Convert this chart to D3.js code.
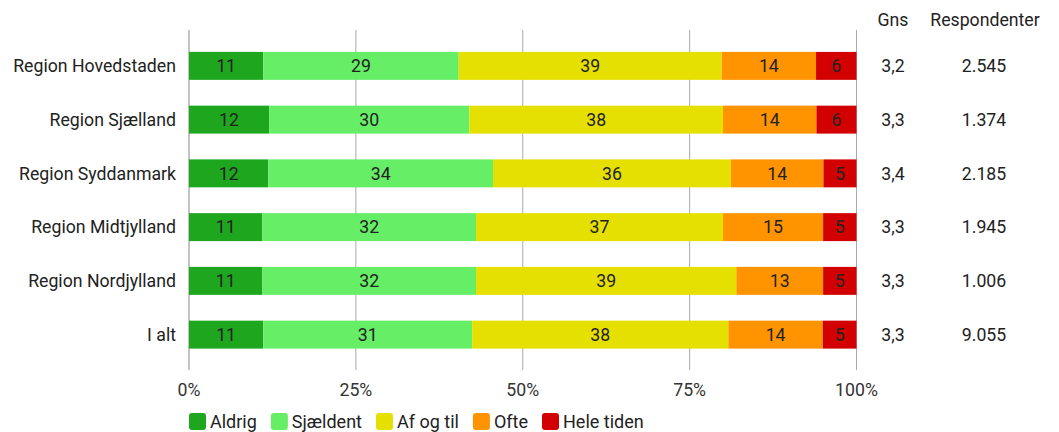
<!DOCTYPE html>
<html><head><meta charset="utf-8">
<script src="https://cdn.jsdelivr.net/npm/d3@7"></script>
<style>body{margin:0;background:#fff;font-family:Roboto,"Noto Sans",sans-serif;}</style>
</head><body><svg id="c" width="1059" height="432"></svg>
<script>
const regions = ["Region Hovedstaden","Region Sjælland","Region Syddanmark","Region Midtjylland","Region Nordjylland","I alt"];
const seriesNames = ["Aldrig","Sjældent","Af og til","Ofte","Hele tiden"];
const aldrig   = [11,12,12,11,11,11];
const sjaeldent= [29,30,34,32,32,31];
const afogtil  = [39,38,36,37,39,38];
const ofte     = [14,14,14,15,13,14];
const heletiden= [6,6,5,5,5,5];
const gns = ["3,2","3,3","3,4","3,3","3,3","3,3"];
const respondenter = ["2.545","1.374","2.185","1.945","1.006","9.055"];
const tickValues = [0,25,50,75,100];
const colors = ["#1ea61e","#66ee66","#e6e000","#ff9400","#d20000"];

const series = [aldrig,sjaeldent,afogtil,ofte,heletiden];
const svg = d3.select("#c");
const x = d3.scaleLinear().domain([0,100]).range([189,856.5]);
const y = d3.scaleBand().domain(regions).range([39,361.5]).paddingInner(0.48).paddingOuter(0.24);
const FS = 17.7;

// gridlines
svg.append("g").selectAll("line").data(tickValues).join("line")
  .attr("x1",d=>x(d)).attr("x2",d=>x(d)).attr("y1",30).attr("y2",370)
  .attr("stroke",d=>d===0?"#888":"#aaa").attr("stroke-width",1);

// tick labels
svg.append("g").selectAll("text").data(tickValues).join("text")
  .attr("x",d=>x(d)).attr("y",396).attr("text-anchor","middle")
  .attr("font-size",FS).attr("fill","#333").text(d=>d+"%");

// bars
regions.forEach((r,i)=>{
  const vals = series.map(s=>s[i]);
  const tot = d3.sum(vals);
  let cum = 0;
  vals.forEach((v,k)=>{
    const x0 = x(cum/tot*100), x1 = x((cum+v)/tot*100);
    cum += v;
    svg.append("rect").attr("x",x0).attr("y",y(r)).attr("width",x1-x0).attr("height",y.bandwidth()).attr("fill",colors[k]);
    svg.append("text").attr("x",(x0+x1)/2).attr("y",y(r)+y.bandwidth()/2).attr("dy","0.36em")
      .attr("text-anchor","middle").attr("font-size",FS).attr("fill","#222").text(v);
  });
  svg.append("text").attr("x",176).attr("y",y(r)+y.bandwidth()/2).attr("dy","0.36em")
    .attr("text-anchor","end").attr("font-size",FS).attr("fill","#222").text(r);
  svg.append("text").attr("x",893).attr("y",y(r)+y.bandwidth()/2).attr("dy","0.36em")
    .attr("text-anchor","middle").attr("font-size",FS).attr("fill","#222").text(gns[i]);
  svg.append("text").attr("x",984).attr("y",y(r)+y.bandwidth()/2).attr("dy","0.36em")
    .attr("text-anchor","middle").attr("font-size",FS).attr("fill","#222").text(respondenter[i]);
});

// headers
svg.append("text").attr("x",893).attr("y",26).attr("text-anchor","middle").attr("font-size",FS).attr("fill","#222").text("Gns");
svg.append("text").attr("x",985).attr("y",26).attr("text-anchor","middle").attr("font-size",FS).attr("fill","#222").text("Respondenter");

// legend
const lg = svg.append("g");
let lx = 189;
seriesNames.forEach((n,k)=>{
  lg.append("rect").attr("x",lx).attr("y",413).attr("width",17).attr("height",17).attr("rx",3).attr("fill",colors[k]);
  const t = lg.append("text").attr("x",lx+21).attr("y",428).attr("font-size",18).attr("fill","#222").text(n);
  lx += 21 + t.node().getComputedTextLength() + 14;
});
</script></body></html>
